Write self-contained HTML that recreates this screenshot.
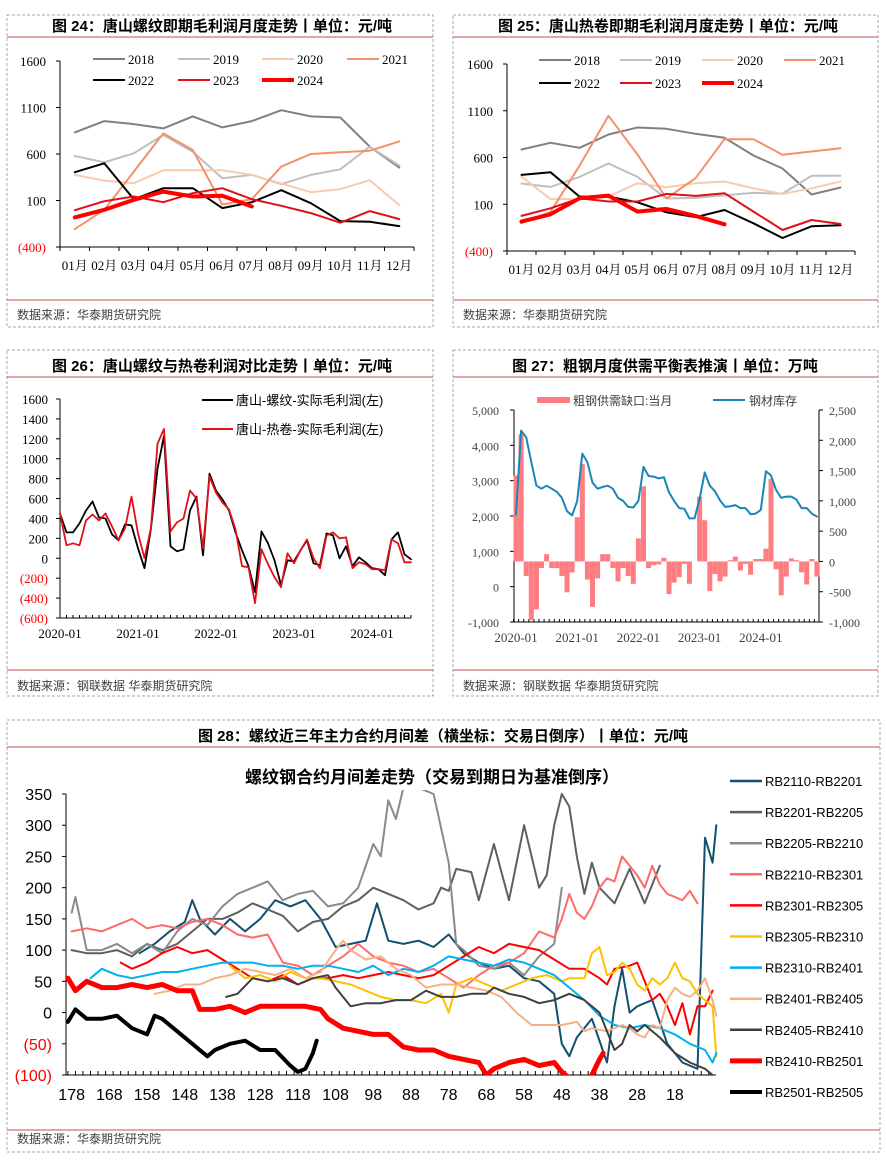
<!DOCTYPE html>
<html><head><meta charset="utf-8">
<style>
html,body{margin:0;padding:0;background:#fff;}
svg{display:block;font-family:"Liberation Sans","Noto Sans CJK SC",sans-serif;}
.ser{font-family:"Liberation Serif","Noto Serif CJK SC",serif;}
</style></head>
<body>
<svg id="root" width="886" height="1161" viewBox="0 0 886 1161" xmlns="http://www.w3.org/2000/svg">
<defs>
<clipPath id="clip28"><rect x="66" y="790" width="652" height="285"/></clipPath>
</defs>
<g fill="none" stroke="#a6a6a6" stroke-dasharray="3,2" stroke-width="1">
<rect x="7" y="15" width="426" height="312"/>
<rect x="453" y="15" width="425" height="312"/>
<rect x="7" y="350" width="426" height="346"/>
<rect x="453" y="350" width="425" height="346"/>
<rect x="7" y="720" width="873" height="432"/>
</g>
<g stroke="#c0504d" stroke-width="1">
<line x1="7" y1="37" x2="433" y2="37"/><line x1="7" y1="300" x2="433" y2="300"/>
<line x1="453" y1="37" x2="878" y2="37"/><line x1="453" y1="300" x2="878" y2="300"/>
<line x1="7" y1="377" x2="433" y2="377"/><line x1="7" y1="670" x2="433" y2="670"/>
<line x1="453" y1="377" x2="878" y2="377"/><line x1="453" y1="670" x2="878" y2="670"/>
<line x1="7" y1="747" x2="880" y2="747"/><line x1="7" y1="1130" x2="880" y2="1130"/>
</g>
<g font-weight="bold" font-size="15" fill="#000" text-anchor="middle">
<text x="222" y="31">图 24：唐山螺纹即期毛利润月度走势丨单位：元/吨</text>
<text x="668" y="31">图 25：唐山热卷即期毛利润月度走势丨单位：元/吨</text>
<text x="222" y="371">图 26：唐山螺纹与热卷利润对比走势丨单位：元/吨</text>
<text x="665" y="371">图 27：粗钢月度供需平衡表推演丨单位：万吨</text>
<text x="443" y="741">图 28：螺纹近三年主力合约月间差（横坐标：交易日倒序）丨单位：元/吨</text>
</g>
<g font-size="12" fill="#404040">
<text x="17" y="319">数据来源：华泰期货研究院</text>
<text x="463" y="319">数据来源：华泰期货研究院</text>
<text x="17" y="690">数据来源：钢联数据 华泰期货研究院</text>
<text x="463" y="690">数据来源：钢联数据 华泰期货研究院</text>
<text x="17" y="1143">数据来源：华泰期货研究院</text>
</g>
<g id="c24"></g>
<g id="c25"></g>
<g id="c26"></g>
<g id="c27"></g>
<g id="c28"></g>
</svg>
<script>
// ---------- Chart 24 data ----------
const months = ['01月','02月','03月','04月','05月','06月','07月','08月','09月','10月','11月','12月'];
const years = ['2018','2019','2020','2021','2022','2023','2024'];
const yTicks24 = [1600,1100,600,100,-400];
const rebar2018 = [832,954,921,875,1004,886,954,1071,1004,993,679,454];
const rebar2019 = [579,511,607,804,625,339,375,275,375,436,679,475];
const rebar2020 = [375,314,286,425,425,425,375,282,189,221,318,50];
const rebar2021 = [-207,0,411,821,643,57,114,464,600,618,636,736];
const rebar2022 = [404,500,114,232,232,18,82,211,71,-121,-129,-175];
const rebar2023 = [-4,93,143,82,179,232,114,43,-36,-139,-14,-100];
const rebar2024 = [-82,0,107,196,143,150,36];
// ---------- Chart 25 data ----------
const coil2018 = [686,757,704,846,921,907,854,811,621,482,204,279];
const coil2019 = [321,286,393,536,393,161,168,196,221,214,404,404];
const coil2020 = [396,154,157,182,325,282,325,343,271,211,271,343];
const coil2021 = [-100,18,511,1046,632,161,379,796,796,629,664,700];
const coil2022 = [414,443,182,182,121,14,-39,39,-104,-261,-136,-125];
const coil2023 = [-25,57,164,129,129,211,189,218,21,-175,-68,-111];
const coil2024 = [-86,-7,164,193,21,50,-25,-114];
// ---------- Chart 26 data (monthly from 2020-01) ----------
const yTicks26 = [1600,1400,1200,1000,800,600,400,200,0,-200,-400,-600];
const xLabels26 = ['2020-01','2021-01','2022-01','2023-01','2024-01'];
const rebarProfit = [450,260,260,350,480,570,410,400,240,180,340,330,
 100,-100,300,900,1230,120,70,90,480,620,30,850,
 680,590,480,260,80,-80,-340,270,150,-20,-270,-20,
 -30,80,180,-50,-70,250,230,0,120,-80,10,-40,
 -100,-110,-170,190,260,40,-10];
const coilProfit = [450,130,150,130,380,440,380,450,320,180,300,620,
 250,0,310,1150,1300,270,360,400,680,600,100,820,
 660,560,490,290,-80,-90,-450,90,-60,-190,-290,50,
 -50,80,190,0,-100,230,260,200,210,-100,-40,-60,
 -110,-110,-120,190,150,-40,-40];
// ---------- Chart 27 data (monthly from 2020-01) ----------
const yTicks27L = [5000,4000,3000,2000,1000,0,-1000];
const yTicks27R = [2500,2000,1500,1000,500,0,-500,-1000];
const xLabels27 = ['2020-01','2021-01','2022-01','2023-01','2024-01'];
const supplyGap = [1420,2100,-240,-970,-790,-110,120,-110,-110,-240,-510,-180,
 730,1610,-300,-750,-280,120,120,-110,-330,-110,-240,-370,
 380,1240,-110,-60,-50,60,-540,-350,-260,-40,-370,0,
 1070,680,-490,-210,-330,-250,20,80,-150,-40,-220,40,
 40,210,1360,-130,-560,-250,50,20,-180,-380,40,-250];
const steelStock = [775,2160,2050,1640,1250,1200,1250,1200,1150,1050,830,760,
 1000,1780,1640,1300,1200,1230,1250,1200,1050,1000,900,890,
 1000,1560,1410,1400,1370,1390,1140,1000,880,870,710,710,
 1030,1470,1250,1160,1010,900,910,930,880,880,780,790,
 850,1490,1420,1180,1050,1070,1070,1020,880,880,790,740];
// ---------- Chart 28 data (trading days before expiry) ----------
const yTicks28 = [350,300,250,200,150,100,50,0,-50,-100];
const xTicks28 = [178,168,158,148,138,128,118,108,98,88,78,68,58,48,38,28,18];
const s2110Days = [160,156,152,148,146,144,140,136,132,128,124,120,116,112,108,104,100,97,94,90,86,82,78,74,70,66,62,58,54,50,48,46,44,40,36,34,32,30,28,24,20,16,12,10,8,7];
const s2110Vals = [95,110,130,145,180,150,125,150,130,150,180,170,180,150,105,110,115,175,115,110,115,105,125,95,80,70,75,55,50,30,-50,-70,-40,-10,-80,10,70,0,10,20,-50,-80,-90,280,240,300];
const s2201Days = [178,174,170,166,162,158,154,150,146,142,138,134,130,126,122,118,114,110,106,102,98,94,90,86,82,80,78,76,72,70,66,62,58,54,52,50,48,46,44,42,40,38,34,30,26,22];
const s2201Vals = [100,95,95,100,90,110,100,110,130,150,150,160,175,165,155,130,145,150,170,180,200,190,180,165,175,200,195,230,225,180,270,180,300,200,220,300,350,330,250,190,240,200,175,230,175,235];
const s2205Days = [178,177,174,170,166,162,158,154,150,146,142,138,134,130,126,122,118,114,110,106,102,98,96,94,92,90,86,82,78,76,74,70,66,62,58,54,50,48];
const s2205Vals = [160,185,100,100,110,95,110,95,130,150,140,170,190,200,210,180,190,195,170,175,200,270,250,340,310,360,360,350,240,110,100,75,70,80,60,90,110,200];
const s2210Days = [178,174,170,166,162,158,154,150,146,142,138,134,130,126,122,118,114,110,106,102,98,94,90,86,82,78,74,70,66,62,58,54,50,48,46,44,42,40,38,36,34,32,30,28,26,24,22,20,18,16,14,12];
const s2210Vals = [130,135,130,140,150,135,140,135,145,150,140,125,120,125,80,75,60,75,90,110,90,80,75,65,70,55,40,60,75,80,95,130,120,150,190,160,150,170,200,215,210,250,235,220,200,235,205,190,185,180,195,175];
const s2301Days = [165,162,158,154,150,146,142,138,134,130,126,122,118,114,110,106,102,98,94,90,86,82,78,74,70,66,62,58,54,50,46,42,38,36,34,30,28,26,24,22,20,18,16,14,12,10,8];
const s2301Vals = [80,70,80,95,105,95,100,85,70,55,50,60,45,55,55,60,55,60,65,60,55,60,75,90,105,95,110,105,100,85,70,70,55,45,70,75,80,50,20,30,10,-20,15,-35,10,10,35];
const s2305Days = [136,132,128,124,120,116,112,108,104,100,96,92,88,84,80,78,76,72,68,64,60,56,52,48,46,42,40,38,36,34,32,30,28,26,24,22,20,18,16,14,12,10,8,7];
const s2305Vals = [75,55,60,50,65,55,55,50,45,35,25,20,20,15,30,0,45,55,45,35,45,55,60,50,55,55,95,105,60,65,80,70,45,35,55,45,55,80,55,50,30,20,10,-70];
const s2310Days = [173,170,166,162,158,154,150,146,142,138,134,130,126,122,118,114,110,106,102,98,94,90,86,82,78,74,70,66,62,58,54,50,46,42,38,34,30,26,22,18,14,10,8,7];
const s2310Vals = [55,70,60,55,60,65,65,70,75,80,80,80,75,75,70,75,75,70,65,75,60,70,65,75,90,85,80,75,85,80,70,60,40,20,-5,-20,-25,-20,-25,-35,-50,-60,-80,-65];
const s2401Days = [156,152,148,144,140,136,132,128,124,120,116,112,108,106,104,100,96,92,88,84,80,76,72,68,64,60,56,52,48,44,42,40,36,32,30,28,26,24,22,20,18,16,14,12,10,8,7];
const s2401Vals = [30,35,45,45,55,60,70,65,60,70,55,65,100,115,100,85,90,70,60,40,45,45,40,35,25,0,-20,-20,-20,-15,-30,-25,-30,-20,-25,-35,-40,-20,-25,20,40,30,25,35,55,20,-5];
const s2405Days = [137,134,130,126,122,118,114,110,108,104,100,96,92,88,84,80,76,72,68,66,62,58,54,50,46,42,38,36,34,32,30,28,26,22,18,14,10,8];
const s2405Vals = [25,30,55,50,55,45,55,60,40,10,15,15,20,20,35,25,25,30,30,40,30,25,15,20,30,20,0,-30,-60,-50,-20,-30,-20,-40,-65,-80,-90,-100];
const s2410Days = [179,177,174,170,166,162,158,154,150,146,144,140,136,132,128,124,120,116,112,110,106,102,98,94,90,86,82,78,74,70,68,66,62,58,54,50,48,46,44,42,40,38,37];
const s2410Vals = [55,35,50,40,40,45,40,45,35,35,5,5,10,0,10,10,10,10,5,-10,-25,-30,-35,-35,-55,-60,-60,-70,-75,-80,-100,-90,-80,-75,-85,-80,-95,-105,-112,-112,-100,-75,-65];
const s2501Days = [179,177,174,170,166,162,158,156,154,150,146,142,140,136,132,128,124,120,118,116,114,113];
const s2501Vals = [-15,5,-10,-10,-5,-25,-35,-5,-10,-30,-50,-70,-60,-50,-45,-60,-60,-85,-95,-90,-65,-45];
const seriesNames28 = ['RB2110-RB2201','RB2201-RB2205','RB2205-RB2210','RB2210-RB2301','RB2301-RB2305','RB2305-RB2310','RB2310-RB2401','RB2401-RB2405','RB2405-RB2410','RB2410-RB2501','RB2501-RB2505'];

const NS='http://www.w3.org/2000/svg';
function mk(tag, parent, attrs){const e=document.createElementNS(NS,tag);for(const k in attrs)e.setAttribute(k,attrs[k]);parent.appendChild(e);return e;}
function fmtNum(v,comma){let a=Math.abs(v);let s=comma?a.toLocaleString('en-US'):String(a);return v<0?(comma?'-'+s:'('+s+')'):s;}
function poly(parent,pts,color,w){return mk('polyline',parent,{points:pts.map(p=>p[0].toFixed(1)+','+p[1].toFixed(1)).join(' '),fill:'none',stroke:color,'stroke-width':w,'stroke-linejoin':'round','stroke-linecap':'round'});}

function yearChart(gid, ox, x1, top, bottom, seriesList, legX, legY){
  const g=document.getElementById(gid);
  const yS=v=>top+(1600-v)*(bottom-top)/2000;
  const step=(x1-ox)/12;
  const xS=i=>ox+(i+0.5)*step;
  mk('line',g,{x1:ox,y1:top,x2:ox,y2:bottom,stroke:'#000','stroke-width':1});
  mk('line',g,{x1:ox,y1:bottom,x2:x1,y2:bottom,stroke:'#000','stroke-width':1});
  yTicks24.forEach(v=>{
    mk('line',g,{x1:ox-4,y1:yS(v),x2:ox,y2:yS(v),stroke:'#000'});
    const t=mk('text',g,{x:ox-14,y:yS(v)+5,'text-anchor':'end','font-size':13,fill:v<0?'#ff0000':'#000',class:'ser'});
    t.textContent=fmtNum(v,false);
    
    
  });
  for(let i=0;i<=12;i++) mk('line',g,{x1:ox+i*step,y1:bottom,x2:ox+i*step,y2:bottom+4,stroke:'#000'});
  months.forEach((m,i)=>{
    const t=mk('text',g,{x:xS(i),y:bottom+23,'text-anchor':'middle','font-size':13,fill:'#000',class:'ser'});
    t.textContent=m;
    
    
  });
  const colors=['#808080','#bfbfbf','#f8cbad','#f4916a','#000000','#e0101a','#ff0000'];
  const widths=[2,2,2,2,2,2,4];
  seriesList.forEach((arr,k)=>{
    const p=poly(g,arr.map((v,i)=>[xS(i),yS(v)]),colors[k],widths[k]);
    
    
    const lx=legX[k%4], ly=legY[Math.floor(k/4)];
    const l=mk('line',g,{x1:lx,y1:ly,x2:lx+32,y2:ly,stroke:colors[k],'stroke-width':widths[k]});
    
    
    const t=mk('text',g,{x:lx+35,y:ly+5,'font-size':13,fill:'#000',class:'ser'});
    t.textContent=years[k];
    
    
  });
}
yearChart('c24',60,414,61,247,[rebar2018,rebar2019,rebar2020,rebar2021,rebar2022,rebar2023,rebar2024],[93,178,262,347],[59,80]);
yearChart('c25',507,855,64,251,[coil2018,coil2019,coil2020,coil2021,coil2022,coil2023,coil2024],[539,620,702,784],[60,83]);

(function(){
  const g=document.getElementById('c26');
  const ox=60,x1=411,top=399,bottom=618;
  const yS=v=>top+(1600-v)*(bottom-top)/2200;
  const mStep=6.5;
  const xS=i=>ox+i*mStep;
  mk('line',g,{x1:ox,y1:top,x2:ox,y2:bottom,stroke:'#000'});
  mk('line',g,{x1:ox,y1:bottom,x2:x1,y2:bottom,stroke:'#000'});
  yTicks26.forEach(v=>{
    mk('line',g,{x1:ox-4,y1:yS(v),x2:ox,y2:yS(v),stroke:'#000'});
    const t=mk('text',g,{x:ox-12,y:yS(v)+5,'text-anchor':'end','font-size':13,fill:v<0?'#ff0000':'#000',class:'ser'});
    t.textContent=fmtNum(v,false);
    
    
  });
  for(let i=0;i<=54;i++) mk('line',g,{x1:xS(i),y1:bottom,x2:xS(i),y2:bottom-3,stroke:'#000'});
  xLabels26.forEach((s,k)=>{
    const t=mk('text',g,{x:xS(k*12),y:bottom+20,'text-anchor':'middle','font-size':13,fill:'#000',class:'ser'});
    t.textContent=s;
    
    
  });
  const pb=poly(g,rebarProfit.map((v,i)=>[xS(i),yS(v)]),'#000',1.8);
  
  
  const pr=poly(g,coilProfit.map((v,i)=>[xS(i),yS(v)]),'#e0101a',1.8);
  
  
  [['#000','唐山-螺纹-实际毛利润(左)',400],['#e0101a','唐山-热卷-实际毛利润(左)',429]].forEach(([c,s,y])=>{
    const l=mk('line',g,{x1:202,y1:y,x2:233,y2:y,stroke:c,'stroke-width':2});
    
    
    const t=mk('text',g,{x:236,y:y+5,'font-size':13,fill:'#000'});
    t.textContent=s;
    
    
  });
})();

(function(){
  const g=document.getElementById('c27');
  const ox=514,x1=819,top=410,bottom=622;
  const yL=v=>top+(5000-v)*(bottom-top)/6000;
  const yR=v=>top+(2500-v)*(bottom-top)/3500;
  const xS=i=>516+i*5.1;
  mk('line',g,{x1:ox,y1:top,x2:ox,y2:bottom,stroke:'#000'});
  mk('line',g,{x1:x1,y1:top,x2:x1,y2:bottom,stroke:'#000'});
  mk('line',g,{x1:ox,y1:bottom,x2:x1,y2:bottom,stroke:'#000'});
  yTicks27L.forEach(v=>{
    mk('line',g,{x1:ox-4,y1:yL(v),x2:ox,y2:yL(v),stroke:'#000'});
    const t=mk('text',g,{x:ox-15,y:yL(v)+5,'text-anchor':'end','font-size':12,fill:'#404040',class:'ser'});
    t.textContent=v.toLocaleString('en-US');
    
    
  });
  yTicks27R.forEach(v=>{
    mk('line',g,{x1:x1,y1:yR(v),x2:x1+4,y2:yR(v),stroke:'#000'});
    const t=mk('text',g,{x:x1+10,y:yR(v)+5,'font-size':12,fill:'#404040',class:'ser'});
    t.textContent=v.toLocaleString('en-US');
    
    
  });
  for(let i=0;i<60;i++) mk('line',g,{x1:xS(i)-2.5,y1:bottom,x2:xS(i)-2.5,y2:bottom-3,stroke:'#000'});
  xLabels27.forEach((s,k)=>{
    const t=mk('text',g,{x:xS(k*12),y:bottom+20,'text-anchor':'middle','font-size':13,fill:'#404040',class:'ser'});
    t.textContent=s;
    
    
  });
  const z=yR(0);
  supplyGap.forEach((v,i)=>{
    const y=yR(v);
    const r=mk('rect',g,{x:xS(i)-2.5,y:Math.min(y,z),width:5,height:Math.abs(z-y),fill:'#ff7c80'});
    
    
  });
  const p=poly(g,steelStock.map((v,i)=>[xS(i),yR(v)]),'#1a86b8',2);
  
  
  const lr=mk('rect',g,{x:537,y:397,width:33,height:6,fill:'#ff7c80'});
  
  
  const t1=mk('text',g,{x:573,y:405,'font-size':12,fill:'#404040'});
  t1.textContent='粗钢供需缺口:当月';
  
  
  const ll=mk('line',g,{x1:713,y1:400,x2:745,y2:400,stroke:'#1a86b8','stroke-width':2});
  
  
  const t2=mk('text',g,{x:749,y:405,'font-size':12,fill:'#404040'});
  t2.textContent='钢材库存';
  
  
})();

(function(){
  const g=document.getElementById('c28');
  const ox=66,x1=716,top=794,bottom=1075;
  const yS=v=>bottom-(v+100)*(bottom-top)/450;
  const xS=d=>ox+(179.5-d)*3.77;
  const ct=mk('text',g,{x:432,y:783,'text-anchor':'middle','font-size':17,'font-weight':'bold',fill:'#000'});
  ct.textContent='螺纹钢合约月间差走势（交易到期日为基准倒序）';
  
  
  mk('line',g,{x1:ox,y1:top,x2:ox,y2:bottom,stroke:'#000'});
  mk('line',g,{x1:ox,y1:bottom,x2:x1,y2:bottom,stroke:'#000'});
  yTicks28.forEach(v=>{
    mk('line',g,{x1:ox-4,y1:yS(v),x2:ox,y2:yS(v),stroke:'#000'});
    const t=mk('text',g,{x:ox-14,y:yS(v)+6,'text-anchor':'end','font-size':16,fill:v<0?'#ff0000':'#000'});
    t.textContent=fmtNum(v,false);
    
    
  });
  for(let d=179;d>=8;d-=2) mk('line',g,{x1:xS(d),y1:bottom,x2:xS(d),y2:bottom-4,stroke:'#000'});
  xTicks28.forEach(d=>{
    const t=mk('text',g,{x:xS(d),y:bottom+25,'text-anchor':'middle','font-size':16,fill:'#000'});
    t.textContent=String(d);
    
    
  });
  const plot=mk('g',g,{'clip-path':'url(#clip28)'});
  const sets=[[s2110Days,s2110Vals,'#12506e',2],[s2201Days,s2201Vals,'#5f5f5f',2],[s2205Days,s2205Vals,'#8a8a8a',2],
   [s2210Days,s2210Vals,'#ff6b6b',2],[s2301Days,s2301Vals,'#ff0000',2],[s2305Days,s2305Vals,'#ffc000',2],
   [s2310Days,s2310Vals,'#00b0f0',2],[s2401Days,s2401Vals,'#f4b183',2],[s2405Days,s2405Vals,'#404040',2],
   [s2410Days,s2410Vals,'#ff0000',5],[s2501Days,s2501Vals,'#000000',4]];
  sets.forEach(([ds,vs,c,w],k)=>{
    const p=poly(plot,ds.map((d,i)=>[xS(d),yS(vs[i])]),c,w);
    
    
    const ly=781+k*31.1;
    const l=mk('line',g,{x1:730,y1:ly,x2:762,y2:ly,stroke:c,'stroke-width':w===2?2.5:w});
    
    
    const t=mk('text',g,{x:765,y:ly+5,'font-size':13,fill:'#000'});
    t.textContent=seriesNames28[k];
    
    
  });
})();
</script>
</body></html>
